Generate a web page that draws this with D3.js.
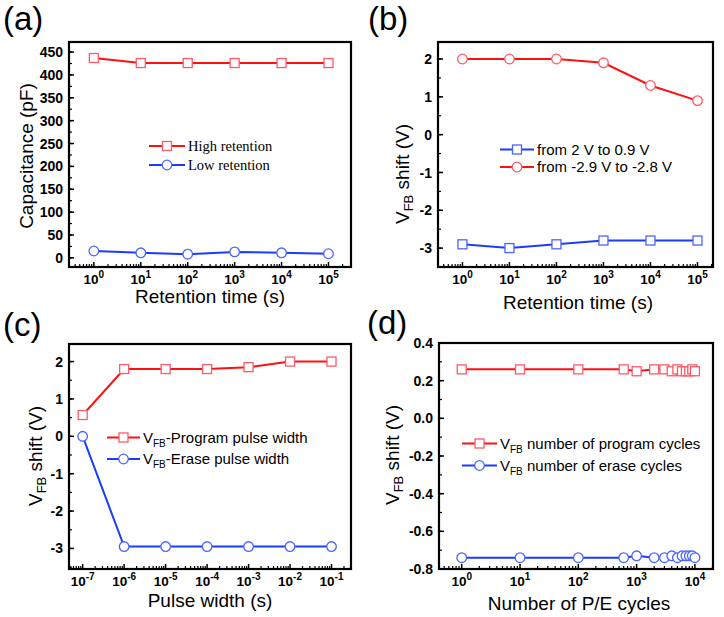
<!DOCTYPE html>
<html><head><meta charset="utf-8">
<script src="https://cdn.jsdelivr.net/npm/d3@7/dist/d3.min.js"></script>
<style>body{margin:0;background:#fff} svg{display:block}</style>
</head><body><svg id="chart" width="724" height="617"></svg>
<script>
// ---------- DATA ----------
// (a)
const retentionTimeA = [1, 10, 100, 1000, 10000, 100000];
const highRetention = [437, 426, 426, 426, 426, 426];
const lowRetention = [15, 11, 8, 13, 11, 9];
const yTicksA = [0, 50, 100, 150, 200, 250, 300, 350, 400, 450];
const yTickLabelsA = ["0", "50", "100", "150", "200", "250", "300", "350", "400", "450"];
const xExpA = [0, 1, 2, 3, 4, 5];
// (b)
const retentionTimeB = [1, 10, 100, 1000, 10000, 100000];
const shiftBlueB = [-2.9, -3.0, -2.9, -2.8, -2.8, -2.8];
const shiftRedB = [2.0, 2.0, 2.0, 1.9, 1.3, 0.9];
const yTicksB = [-3, -2, -1, 0, 1, 2];
const yTickLabelsB = ["-3", "-2", "-1", "0", "1", "2"];
const xExpB = [0, 1, 2, 3, 4, 5];
// (c)
const pulseWidth = [1e-7, 1e-6, 1e-5, 1e-4, 1e-3, 1e-2, 1e-1];
const programPulse = [0.57, 1.8, 1.8, 1.8, 1.85, 2.0, 2.0];
const erasePulse = [0, -2.95, -2.95, -2.95, -2.95, -2.95, -2.95];
const yTicksC = [-3, -2, -1, 0, 1, 2];
const yTickLabelsC = ["-3", "-2", "-1", "0", "1", "2"];
const xExpC = [-7, -6, -5, -4, -3, -2, -1];
// (d)
const peCycles = [1, 10, 100, 600, 1000, 2000, 3000, 4000, 5000, 6000, 7000, 8000, 9000, 10000];
const programCycles = [0.26, 0.26, 0.26, 0.26, 0.25, 0.26, 0.26, 0.25, 0.26, 0.25, 0.25, 0.25, 0.26, 0.25];
const eraseCycles = [-0.74, -0.74, -0.74, -0.74, -0.73, -0.74, -0.74, -0.73, -0.74, -0.73, -0.73, -0.73, -0.73, -0.74];
const yTicksD = [-0.8, -0.6, -0.4, -0.2, 0.0, 0.2, 0.4];
const yTickLabelsD = ["-0.8", "-0.6", "-0.4", "-0.2", "0.0", "0.2", "0.4"];
const xExpD = [0, 1, 2, 3, 4];

// ---------- STYLE ----------
const RED = "#ff1010", RED_MK = "#ff5a68";
const BLUE = "#1a3cff", BLUE_MK = "#4a66ff";
const SANS = "Arial, 'Liberation Sans', Helvetica, sans-serif";
const SERIF = "'Times New Roman', 'Liberation Serif', serif";

const svg = d3.select("#chart");

function panel(cfg) {
  const g = svg.append("g");
  const x = d3.scaleLog().domain(cfg.xDomain).range([cfg.left, cfg.right]);
  const y = d3.scaleLinear().domain(cfg.yDomain).range([cfg.bottom, cfg.top]);

  // series
  cfg.series.forEach(s => {
    const pts = s.x.map((v, i) => [v, s.y[i]]);
    g.append("path").datum(pts)
      .attr("fill", "none").attr("stroke", s.color).attr("stroke-width", 2)
      .attr("d", d3.line().x(d => x(d[0])).y(d => y(d[1])));
    if (s.marker === "square") {
      g.selectAll(null).data(pts).enter().append("rect")
        .attr("x", d => x(d[0]) - 4.5).attr("y", d => y(d[1]) - 4.5)
        .attr("width", 9).attr("height", 9)
        .attr("fill", "#fff").attr("stroke", s.mk).attr("stroke-width", 1.3);
    } else {
      g.selectAll(null).data(pts).enter().append("circle")
        .attr("cx", d => x(d[0])).attr("cy", d => y(d[1])).attr("r", 4.8)
        .attr("fill", "#fff").attr("stroke", s.mk).attr("stroke-width", 1.3);
    }
  });

  // y ticks (inward)
  cfg.yTicks.forEach((t, i) => {
    g.append("line").attr("x1", cfg.left).attr("x2", cfg.left + 5)
      .attr("y1", y(t)).attr("y2", y(t)).attr("stroke", "#000").attr("stroke-width", 1.5);
    g.append("text").attr("x", cfg.left - 6).attr("y", y(t)).attr("dy", "0.36em")
      .attr("text-anchor", "end").attr("font-family", SANS).attr("font-weight", "bold")
      .attr("font-size", 14).text(cfg.yLabels[i]);
  });
  const yMin = cfg.yDomain[0], yMax = cfg.yDomain[1];
  const start = Math.ceil(yMin / cfg.yMinorStep - 1e-9);
  for (let k = start; k * cfg.yMinorStep <= yMax + 1e-9; k++) {
    const v = k * cfg.yMinorStep;
    g.append("line").attr("x1", cfg.left).attr("x2", cfg.left + 3)
      .attr("y1", y(v)).attr("y2", y(v)).attr("stroke", "#000").attr("stroke-width", 1.2);
  }

  // x ticks (log, inward)
  const lo = Math.floor(Math.log10(cfg.xDomain[0])), hi = Math.ceil(Math.log10(cfg.xDomain[1]));
  for (let e = lo; e <= hi; e++) {
    for (let m = 2; m <= 9; m++) {
      const v = m * Math.pow(10, e);
      if (v < cfg.xDomain[0] || v > cfg.xDomain[1]) continue;
      g.append("line").attr("x1", x(v)).attr("x2", x(v))
        .attr("y1", cfg.bottom).attr("y2", cfg.bottom - 3).attr("stroke", "#000").attr("stroke-width", 1.2);
    }
  }
  cfg.xExp.forEach(e => {
    const v = Math.pow(10, e);
    g.append("line").attr("x1", x(v)).attr("x2", x(v))
      .attr("y1", cfg.bottom).attr("y2", cfg.bottom - 5).attr("stroke", "#000").attr("stroke-width", 1.5);
    const t = g.append("text").attr("x", x(v)).attr("y", cfg.bottom + 17)
      .attr("text-anchor", "middle").attr("font-family", SANS).attr("font-weight", "bold").attr("font-size", 13.5);
    t.append("tspan").text("10");
    t.append("tspan").attr("font-size", 10).attr("dy", -6).text(String(e));
  });

  // frame
  g.append("rect").attr("x", cfg.left).attr("y", cfg.top)
    .attr("width", cfg.right - cfg.left).attr("height", cfg.bottom - cfg.top)
    .attr("fill", "none").attr("stroke", "#000").attr("stroke-width", 2.2);

  // axis titles
  g.append("text").attr("x", cfg.xTitlePos[0]).attr("y", cfg.xTitlePos[1])
    .attr("text-anchor", "middle").attr("font-family", SANS).attr("font-size", 19)
    .text(cfg.xTitle);
  const yt = g.append("text")
    .attr("transform", `translate(${cfg.yTitlePos[0]},${cfg.yTitlePos[1]}) rotate(-90)`)
    .attr("text-anchor", "middle").attr("font-family", SANS).attr("font-size", 19);
  if (cfg.yTitleVfb) {
    yt.append("tspan").text("V");
    yt.append("tspan").attr("font-size", 13).attr("dy", 4).text("FB");
    yt.append("tspan").attr("dy", -4).text(" shift (V)");
  } else {
    yt.text(cfg.yTitle);
  }

  // panel label
  g.append("text").attr("x", cfg.labelPos[0]).attr("y", cfg.labelPos[1])
    .attr("font-family", SANS).attr("font-size", 33).text(cfg.label);

  // legend
  cfg.legend.forEach(L => {
    g.append("line").attr("x1", L.x0).attr("x2", L.x1).attr("y1", L.y).attr("y2", L.y)
      .attr("stroke", L.color).attr("stroke-width", 2);
    const mx = (L.x0 + L.x1) / 2;
    if (L.marker === "square") {
      g.append("rect").attr("x", mx - 4.5).attr("y", L.y - 4.5).attr("width", 9).attr("height", 9)
        .attr("fill", "#fff").attr("stroke", L.mk).attr("stroke-width", 1.3);
    } else {
      g.append("circle").attr("cx", mx).attr("cy", L.y).attr("r", 4.8)
        .attr("fill", "#fff").attr("stroke", L.mk).attr("stroke-width", 1.3);
    }
    const t = g.append("text").attr("x", L.x1 + 3).attr("y", L.y).attr("dy", "0.35em")
      .attr("font-family", L.font).attr("font-size", L.size);
    if (L.vfb) {
      t.append("tspan").text("V");
      t.append("tspan").attr("font-size", 10).attr("dy", 4).text("FB");
      t.append("tspan").attr("dy", -4).text(L.text);
    } else {
      t.text(L.text);
    }
  });
}

panel({
  left: 69, right: 351, top: 42, bottom: 267,
  xDomain: [Math.pow(10, -0.53), Math.pow(10, 5.48)], yDomain: [-20, 472],
  yTicks: yTicksA, yLabels: yTickLabelsA, yMinorStep: 25, xExp: xExpA,
  series: [
    { x: retentionTimeA, y: highRetention, color: RED, mk: RED_MK, marker: "square" },
    { x: retentionTimeA, y: lowRetention, color: BLUE, mk: BLUE_MK, marker: "circle" }
  ],
  xTitle: "Retention time (s)", xTitlePos: [210, 302.5],
  yTitle: "Capacitance (pF)", yTitlePos: [33, 156],
  label: "(a)", labelPos: [3, 30],
  legend: [
    { x0: 149, x1: 185, y: 146, color: RED, mk: RED_MK, marker: "square", text: "High retention", font: SERIF, size: 14.5 },
    { x0: 149, x1: 185, y: 165, color: BLUE, mk: BLUE_MK, marker: "circle", text: "Low retention", font: SERIF, size: 14.5 }
  ]
});

panel({
  left: 438, right: 713, top: 42, bottom: 267,
  xDomain: [Math.pow(10, -0.52), Math.pow(10, 5.33)], yDomain: [-3.5, 2.45],
  yTicks: yTicksB, yLabels: yTickLabelsB, yMinorStep: 0.5, xExp: xExpB,
  series: [
    { x: retentionTimeB, y: shiftBlueB, color: BLUE, mk: BLUE_MK, marker: "square" },
    { x: retentionTimeB, y: shiftRedB, color: RED, mk: RED_MK, marker: "circle" }
  ],
  xTitle: "Retention time (s)", xTitlePos: [578, 309],
  yTitleVfb: true, yTitlePos: [409, 174],
  label: "(b)", labelPos: [368, 30],
  legend: [
    { x0: 500, x1: 534, y: 149.5, color: BLUE, mk: BLUE_MK, marker: "square", text: "from 2 V to 0.9 V", font: SANS, size: 15 },
    { x0: 500, x1: 534, y: 167, color: RED, mk: RED_MK, marker: "circle", text: "from -2.9 V to -2.8 V", font: SANS, size: 15 }
  ]
});

panel({
  left: 69, right: 351, top: 344, bottom: 569,
  xDomain: [Math.pow(10, -7.33), Math.pow(10, -0.53)], yDomain: [-3.55, 2.47],
  yTicks: yTicksC, yLabels: yTickLabelsC, yMinorStep: 0.5, xExp: xExpC,
  series: [
    { x: pulseWidth, y: programPulse, color: RED, mk: RED_MK, marker: "square" },
    { x: pulseWidth, y: erasePulse, color: BLUE, mk: BLUE_MK, marker: "circle" }
  ],
  xTitle: "Pulse width (s)", xTitlePos: [210, 606.5],
  yTitleVfb: true, yTitlePos: [42, 456],
  label: "(c)", labelPos: [3, 336],
  legend: [
    { x0: 107, x1: 140, y: 437.5, color: RED, mk: RED_MK, marker: "square", text: "-Program pulse width", font: SANS, size: 15, vfb: true },
    { x0: 107, x1: 140, y: 459, color: BLUE, mk: BLUE_MK, marker: "circle", text: "-Erase pulse width", font: SANS, size: 15, vfb: true }
  ]
});

panel({
  left: 439, right: 713, top: 343, bottom: 569,
  xDomain: [Math.pow(10, -0.39), Math.pow(10, 4.31)], yDomain: [-0.8, 0.4],
  yTicks: yTicksD, yLabels: yTickLabelsD, yMinorStep: 0.1, xExp: xExpD,
  series: [
    { x: peCycles, y: programCycles, color: RED, mk: RED_MK, marker: "square" },
    { x: peCycles, y: eraseCycles, color: BLUE, mk: BLUE_MK, marker: "circle" }
  ],
  xTitle: "Number of P/E cycles", xTitlePos: [579, 610],
  yTitleVfb: true, yTitlePos: [399, 455],
  label: "(d)", labelPos: [367, 334],
  legend: [
    { x0: 462, x1: 497, y: 443.5, color: RED, mk: RED_MK, marker: "square", text: " number of program cycles", font: SANS, size: 15, vfb: true },
    { x0: 462, x1: 497, y: 465.5, color: BLUE, mk: BLUE_MK, marker: "circle", text: " number of erase cycles", font: SANS, size: 15, vfb: true }
  ]
});
</script>
</body></html>
